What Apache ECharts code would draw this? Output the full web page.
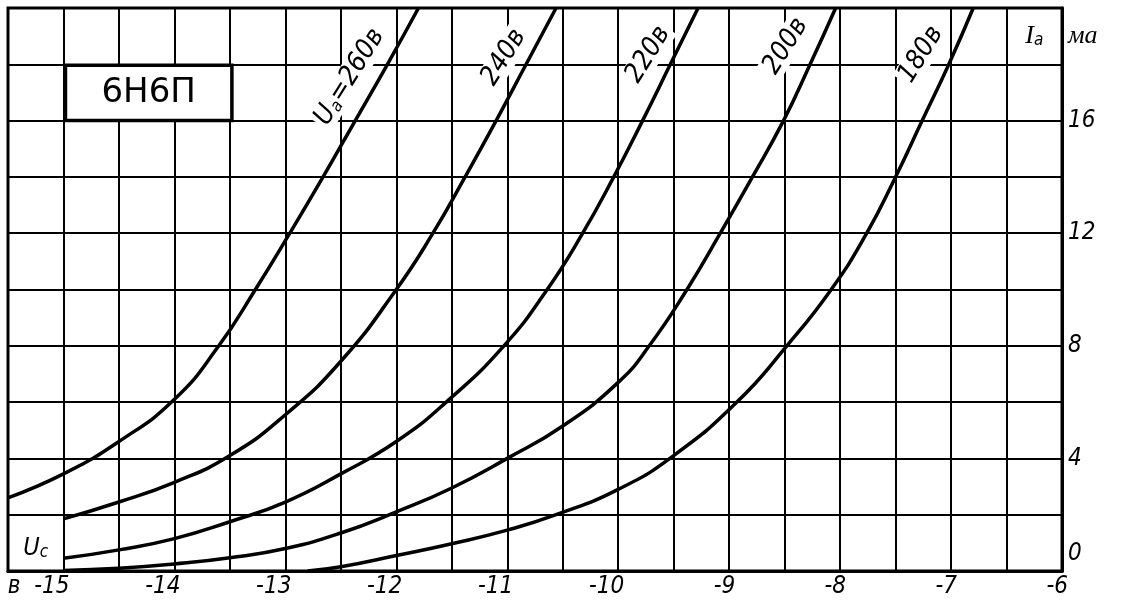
<!DOCTYPE html>
<html>
<head>
<meta charset="utf-8">
<script src="https://cdn.jsdelivr.net/npm/echarts/dist/echarts.min.js"></script>
<style>
html,body{margin:0;padding:0;background:#fff;}
#c{width:1122px;height:607px;}
</style>
</head>
<body>
<div id="c"></div>
<script>
// ---- data (grid voltage Uc in volts, anode current Ia in mA) ----
const xTickLabels = [-15, -14, -13, -12, -11, -10, -9, -8, -7, -6];
const yTickLabels = [0, 4, 8, 12, 16];

const ug260 = [-15.5, -15.0, -14.5, -14.0, -13.60, -13.27, -12.96, -12.66, -12.37, -12.08, -11.80];
const ia260 = [2.6, 3.45, 4.6, 6.1, 8, 10, 12, 14, 16, 18, 20];

const ug240 = [-15.0, -14.5, -14.0, -13.5, -13.0, -12.5, -12.0, -11.67, -11.38, -11.10, -10.83, -10.56];
const ia240 = [1.85, 2.45, 3.15, 4.1, 5.55, 7.45, 10, 12, 14, 16, 18, 20];

const ug220 = [-15.0, -14.5, -14.0, -13.5, -13.0, -12.5, -12.0, -11.55, -11.03, -10.64, -10.32, -10.04, -9.78, -9.53, -9.28];
const ia220 = [0.45, 0.75, 1.15, 1.75, 2.45, 3.45, 4.6, 6, 8, 10, 12, 14, 16, 18, 20];

const ug200 = [-15.0, -14.5, -14.0, -13.5, -13.0, -12.5, -12.0, -11.5, -11.0, -10.5, -10.0, -9.72, -9.38, -9.08, -8.79, -8.51, -8.27, -8.04];
const ia200 = [0.02, 0.1, 0.25, 0.47, 0.8, 1.35, 2.1, 2.95, 4, 5.15, 6.7, 8, 10, 12, 14, 16, 18, 20];

const ug180 = [-12.8, -12.5, -12.0, -11.5, -11.0, -10.56, -10.0, -9.5, -8.93, -8.48, -8.08, -7.76, -7.50, -7.26, -7.02, -6.80];
const ia180 = [0.0, 0.15, 0.55, 0.97, 1.45, 2, 2.9, 4.1, 6, 8, 10, 12, 14, 16, 18, 20];

const curveNames = ['260в', '240в', '220в', '200в', '180в'];
const curves = [[ug260, ia260], [ug240, ia240], [ug220, ia220], [ug200, ia200], [ug180, ia180]];

// ---- styling / layout ----
const labelFont = "'DejaVu Sans Condensed', 'DejaVu Sans', sans-serif";

const chart = echarts.init(document.getElementById('c'), null, {renderer: 'canvas'});

const series = curves.map((c, k) => ({
  name: curveNames[k],
  type: 'line',
  data: c[0].map((u, i) => [u, c[1][i]]),
  smooth: 0.5,
  showSymbol: false,
  symbol: 'none',
  clip: true,
  silent: true,
  z: 5,
  lineStyle: {color: '#000', width: 3.5}
}));

chart.setOption({
  animation: false,
  backgroundColor: '#fff',
  grid: {
    left: 8, top: 8, right: 60, bottom: 36,
    show: true, borderColor: '#000', borderWidth: 3, backgroundColor: '#fff',
    containLabel: false, outerBoundsMode: 'none'
  },
  xAxis: {
    type: 'value', min: -15.5, max: -6, interval: 0.5,
    axisLine: {show: true, lineStyle: {color: '#000', width: 3}},
    axisTick: {show: false},
    splitLine: {show: true, lineStyle: {color: '#000', width: 2}},
    axisLabel: {
      show: true, margin: 4, align: 'right', padding: [0, -6, 0, 0],
      color: '#000', fontSize: 24, fontStyle: 'italic', fontFamily: labelFont,
      formatter: function (v) {
        const r = Math.round(v * 2) / 2;
        if (xTickLabels.indexOf(r) < 0) return '';
        return r === -15 ? 'в  -15' : String(r);
      }
    }
  },
  yAxis: {
    type: 'value', min: 0, max: 20, interval: 2, position: 'right',
    axisLine: {show: true, lineStyle: {color: '#000', width: 3}},
    axisTick: {show: false},
    splitLine: {show: true, lineStyle: {color: '#000', width: 2}},
    axisLabel: {
      show: true, margin: 6, color: '#000', fontSize: 24, fontStyle: 'italic', fontFamily: labelFont,
      formatter: function (v) {
        if (yTickLabels.indexOf(v) < 0) return '';
        return v === 0 ? '{z|0}' : String(v);
      },
      rich: {
        z: {fontSize: 24, fontStyle: 'italic', fontFamily: labelFont, color: '#000', padding: [0, 0, 34, 0]}
      }
    }
  },
  series: series
});

// ---- annotations positioned in data coordinates ----
const px = (x, y) => chart.convertToPixel({gridIndex: 0}, [x, y]);

const curveLabelAnchors = [[-12.42, 17.55], [-11.03, 18.25], [-9.73, 18.35], [-8.49, 18.65], [-7.27, 18.35]];
const labelAngle = 58 * Math.PI / 180;
const labelSize = 27;

const graphics = [];
curveLabelAnchors.forEach((a, k) => {
  const p = px(a[0], a[1]);
  const isFirst = k === 0;
  graphics.push({
    type: 'text', x: p[0], y: p[1], rotation: labelAngle, z: 100, silent: true,
    style: {
      text: isFirst ? '{u|U}{s|а}{t|=' + curveNames[k] + '}' : curveNames[k],
      fill: '#000', align: 'center', verticalAlign: 'middle',
      fontSize: labelSize, fontStyle: 'italic', fontFamily: labelFont,
      backgroundColor: '#fff', padding: [0, 2, 0, 2],
      rich: isFirst ? {
        u: {fontSize: labelSize, fontStyle: 'italic', fontFamily: labelFont, fill: '#000'},
        s: {fontSize: 17, fontStyle: 'italic', fontFamily: labelFont, fill: '#000', verticalAlign: 'bottom'},
        t: {fontSize: labelSize, fontStyle: 'italic', fontFamily: labelFont, fill: '#000'}
      } : undefined
    }
  });
});

// tube type box
const b1 = px(-15, 18), b2 = px(-13.5, 16);
graphics.push({
  type: 'rect', z: 100, silent: true,
  shape: {x: b1[0] + 2, y: b1[1] + 1, width: b2[0] - b1[0], height: b2[1] - b1[1] - 1},
  style: {fill: '#fff', stroke: '#000', lineWidth: 3.5}
});
graphics.push({
  type: 'text', z: 101, silent: true, x: (b1[0] + b2[0]) / 2 + 2, y: (b1[1] + b2[1]) / 2 + 1,
  style: {text: '6Н6П', fill: '#000', align: 'center', verticalAlign: 'middle',
    fontSize: 34, fontFamily: "'DejaVu Sans', sans-serif"}
});

// axis titles
const ia = px(-6.25, 19);
graphics.push({
  type: 'text', z: 100, silent: true, x: ia[0], y: ia[1],
  style: {
    text: '{i|I}{s|а}', align: 'center', verticalAlign: 'middle',
    rich: {
      i: {fontSize: 26, fontStyle: 'italic', fontFamily: "'Liberation Serif', serif", fill: '#000'},
      s: {fontSize: 17, fontStyle: 'italic', fontFamily: labelFont, fill: '#000', verticalAlign: 'bottom'}
    }
  }
});
const ma = px(-6, 19);
graphics.push({
  type: 'text', z: 100, silent: true, x: ma[0] + 6, y: ma[1],
  style: {text: 'ма', fill: '#000', align: 'left', verticalAlign: 'middle',
    fontSize: 26, fontStyle: 'italic', fontFamily: "'Liberation Serif', serif"}
});
const uc = px(-15.25, 0.8);
graphics.push({
  type: 'text', z: 100, silent: true, x: uc[0], y: uc[1],
  style: {
    text: '{u|U}{s|c}', align: 'center', verticalAlign: 'middle',
    rich: {
      u: {fontSize: 25, fontStyle: 'italic', fontFamily: labelFont, fill: '#000'},
      s: {fontSize: 17, fontStyle: 'italic', fontFamily: labelFont, fill: '#000', verticalAlign: 'bottom'}
    }
  }
});

chart.setOption({graphic: graphics});
</script>
</body>
</html>
